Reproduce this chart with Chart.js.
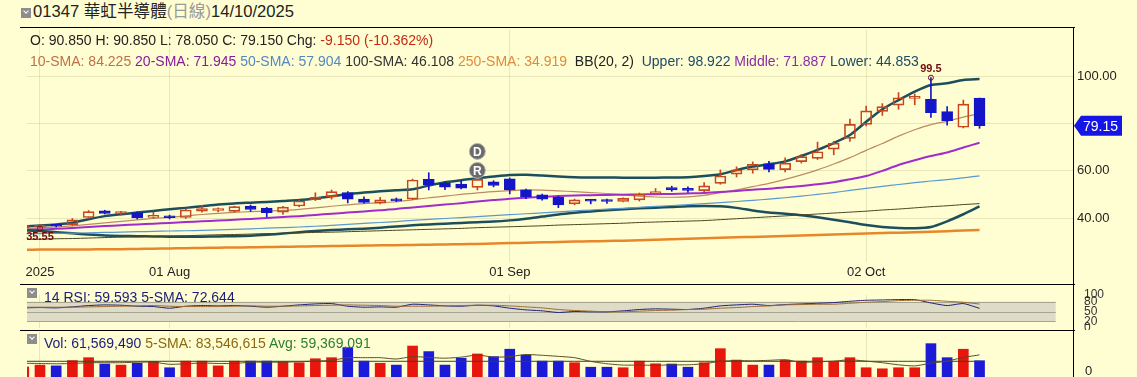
<!DOCTYPE html>
<html>
<head>
<meta charset="utf-8">
<script src="https://cdn.jsdelivr.net/npm/chart.js@4.4.1/dist/chart.umd.min.js"></script>
<style>
  body { margin: 0; background: #fffed2; width: 1137px; height: 377px; overflow: hidden; position: relative;
         font-family: "Liberation Sans", Arial, "Noto Sans CJK TC", sans-serif; }
  .abs { position: absolute; white-space: nowrap; }
  .rule { position: absolute; left: 20px; width: 1055px; height: 1px; background: #000; }
  .icon { position: absolute; width: 10px; height: 10px; background: #8d8d8d; }
  .icon:after { content: ''; position: absolute; left: 3px; top: 1px; width: 3px; height: 3px;
                border-right: 1.5px solid #fff; border-bottom: 1.5px solid #fff; transform: rotate(45deg); }
  canvas { position: absolute; left: 0; }
  .txt { position: absolute; white-space: nowrap; font-size: 14px; line-height: 16px; z-index: 2; }
</style>
</head>
<body>
<canvas id="price" width="1137" height="257" style="top:27px"></canvas>
<canvas id="rsi" width="1137" height="45" style="top:285px"></canvas>
<canvas id="vol" width="1137" height="46" style="top:331px"></canvas>

<div class="icon" style="left:21px;top:8px"></div>
<div class="abs" style="left:33px;top:2px;font-size:16.6px;line-height:20px;color:#222">01347 華虹半導體<span style="color:#9a9a9a">(日線)</span>14/10/2025</div>
<div class="rule" style="top:27px"></div>
<div class="txt" style="left:30px;top:32px;color:#222">O: 90.850 H: 90.850 L: 78.050 C: 79.150 Chg: <span style="color:#c42a12">-9.150 (-10.362%)</span></div>
<div class="txt" style="left:30px;top:53px">
  <span style="color:#c07048">10-SMA: 84.225</span>
  <span style="color:#8a1c9c">20-SMA: 71.945</span>
  <span style="color:#5488c4">50-SMA: 57.904</span>
  <span style="color:#333">100-SMA: 46.108</span>
  <span style="color:#e08a3c">250-SMA: 34.919</span>&nbsp;
  <span style="color:#222">BB(20, 2)</span>&nbsp;
  <span style="color:#1e4a66">Upper: 98.922</span>
  <span style="color:#8a2da8">Middle: 71.887</span>
  <span style="color:#1e4a66">Lower: 44.853</span>
</div>

<div class="rule" style="top:284px"></div>
<div class="icon" style="left:27px;top:288px"></div>
<div class="txt" style="left:44px;top:289px;color:#1c1c78">14 RSI: 59.593 5-SMA: 72.644</div>

<div class="rule" style="top:330px"></div>
<div class="icon" style="left:27px;top:334px"></div>
<div class="txt" style="left:44px;top:335px"><span style="color:#1c1c78">Vol: 61,569,490</span> <span style="color:#8b6914">5-SMA: 83,546,615</span> <span style="color:#2e7d32">Avg: 59,369,091</span></div>

<div style="position:absolute;left:1073px;top:27px;width:1px;height:350px;background:#000"></div>

<script>
// trading days shown (first one is mostly hidden behind the left edge)
const dates = [
  '2025-07-21','2025-07-22','2025-07-23','2025-07-24','2025-07-25','2025-07-28','2025-07-29','2025-07-30','2025-07-31',
  '2025-08-01','2025-08-04','2025-08-05','2025-08-06','2025-08-07','2025-08-08','2025-08-11','2025-08-12','2025-08-13',
  '2025-08-14','2025-08-15','2025-08-18','2025-08-19','2025-08-20','2025-08-21','2025-08-22','2025-08-25','2025-08-26',
  '2025-08-27','2025-08-28','2025-08-29',
  '2025-09-01','2025-09-02','2025-09-03','2025-09-04','2025-09-05','2025-09-08','2025-09-09','2025-09-10','2025-09-11',
  '2025-09-12','2025-09-15','2025-09-16','2025-09-17','2025-09-18','2025-09-19','2025-09-22','2025-09-23','2025-09-24',
  '2025-09-25','2025-09-26','2025-09-29','2025-09-30',
  '2025-10-02','2025-10-03','2025-10-06','2025-10-08','2025-10-09','2025-10-10','2025-10-13','2025-10-14'
];

const open = [35.9, 36.1, 36.9, 37.2, 40.2, 43.0, 41.9, 42.3, 40.3, 40.5, 40.2, 42.9, 43.2, 42.8, 45.1, 44.2, 42.5, 45.1, 47.8, 49.1,
  50.8, 48.0, 46.3, 47.5, 48.0, 56.4, 54.7, 54.4, 53.0, 55.3, 56.6, 51.9, 49.8, 48.8, 46.0, 47.4, 47.4, 47.0, 47.7, 50.3,
  52.9, 52.2, 51.6, 54.7, 58.6, 60.4, 63.0, 60.5, 63.9, 65.3, 69.2, 73.8, 79.7, 85.2, 87.9, 90.7, 90.3, 85.1, 78.5, 90.85];
const high = [36.8, 37.2, 37.3, 39.8, 43.2, 43.3, 42.8, 42.6, 42.5, 41.2, 43.9, 45.4, 44.3, 45.0, 45.5, 44.5, 45.0, 47.6, 50.7, 51.9,
  51.2, 49.0, 48.8, 48.5, 56.5, 59.2, 55.3, 55.8, 56.8, 55.8, 57.0, 52.3, 50.2, 49.3, 48.0, 47.9, 48.0, 48.6, 50.6, 52.5,
  53.5, 53.2, 55.0, 60.4, 61.7, 63.8, 64.0, 65.5, 67.0, 72.2, 72.5, 82.0, 87.5, 88.5, 93.2, 92.6, 99.5, 87.2, 90.0, 90.85];
const low = [35.7, 35.55, 36.2, 36.8, 39.8, 41.7, 41.2, 39.6, 40.0, 39.6, 39.8, 42.5, 42.6, 42.5, 42.8, 40.5, 41.5, 44.8, 47.4, 48.0,
  46.4, 46.3, 46.0, 46.9, 47.8, 51.9, 52.0, 52.3, 51.9, 53.2, 50.2, 48.2, 47.6, 44.4, 45.6, 46.0, 46.2, 46.8, 47.2, 50.0,
  51.3, 50.8, 51.2, 54.3, 57.4, 59.0, 59.5, 59.5, 63.3, 64.8, 66.8, 72.5, 79.0, 83.5, 86.1, 88.0, 82.7, 79.4, 78.2, 78.05];
const close = [36.3, 36.6, 36.5, 39.2, 42.7, 42.0, 42.1, 40.0, 40.8, 40.1, 43.4, 44.0, 43.9, 44.8, 43.6, 42.3, 44.6, 47.2, 48.8, 51.2,
  48.0, 46.6, 47.7, 47.3, 56.1, 54.0, 53.1, 52.7, 56.4, 53.8, 51.9, 49.1, 48.0, 45.6, 47.7, 47.1, 47.0, 48.3, 50.2, 51.2,
  51.9, 51.7, 53.6, 57.8, 60.4, 62.8, 60.6, 63.3, 66.0, 68.1, 71.7, 79.7, 85.4, 87.2, 91.0, 90.9, 84.7, 81.3, 88.3, 79.15];

// volume in millions of shares
const volM = [38, 45, 42, 62, 73, 49, 45, 52, 59, 35, 60, 60, 42, 60, 60, 60, 58, 54, 69, 73,
  111, 60, 52, 45, 117, 96, 45, 71, 87, 77, 105, 83, 60, 60, 54, 37, 37, 35, 60, 50,
  49, 37, 54, 107, 64, 45, 45, 64, 60, 73, 58, 73, 35, 31, 35, 35, 126, 73, 105, 61.57];
const volSma5M = [52, 51, 50, 51, 54, 54, 54, 56, 56, 48, 50, 53, 51, 51, 56, 56, 56, 58, 60, 63,
  73, 73, 73, 68, 77, 74, 71, 75, 83, 75, 77, 85, 82, 78, 73, 59, 50, 45, 45, 44,
  46, 46, 50, 59, 62, 61, 63, 65, 56, 57, 60, 65, 60, 54, 46, 42, 52, 60, 74, 83.5];
const volAvgM = 59.369;

const sma10 = [35.5, 35.8, 36.2, 36.7, 37.3, 37.9, 38.6, 39.2, 39.8, 40.3, 40.9, 41.5, 42.0, 42.4, 42.7, 42.9, 43.2, 43.7, 44.3, 45.0,
  45.6, 46.1, 46.5, 46.9, 47.7, 48.6, 49.3, 50.0, 50.7, 51.2, 51.6, 51.9, 51.8, 51.5, 51.2, 50.8, 50.4, 49.9, 49.3, 48.9,
  48.8, 49.0, 49.6, 50.7, 51.9, 53.3, 54.7, 56.4, 58.3, 60.4, 62.9, 65.6, 68.7, 71.6, 74.7, 77.4, 79.6, 81.0, 82.8, 84.2];
const sma20 = [34.9, 35.1, 35.4, 35.8, 36.2, 36.6, 36.9, 37.3, 37.6, 37.9, 38.3, 38.6, 38.9, 39.3, 39.6, 40.0, 40.4, 40.8, 41.3, 41.8,
  42.3, 42.8, 43.3, 43.8, 44.5, 45.1, 45.7, 46.3, 47.0, 47.6, 48.2, 48.6, 49.0, 49.3, 49.5, 49.7, 49.8, 49.9, 50.0, 50.1,
  50.2, 50.4, 50.6, 51.0, 51.5, 52.0, 52.4, 53.0, 53.6, 54.3, 55.2, 56.4, 57.8, 60.0, 62.5, 64.5, 66.3, 67.8, 69.9, 71.9];
const sma50 = [33.3, 33.4, 33.5, 33.6, 33.7, 33.9, 34.0, 34.2, 34.3, 34.5, 34.6, 34.8, 35.0, 35.2, 35.4, 35.7, 35.9, 36.2, 36.5, 36.9,
  37.3, 37.7, 38.1, 38.5, 39.0, 39.4, 39.8, 40.2, 40.6, 41.0, 41.4, 41.8, 42.2, 42.6, 43.0, 43.4, 43.8, 44.1, 44.5, 44.9,
  45.3, 45.7, 46.1, 46.5, 47.0, 47.5, 48.0, 48.6, 49.3, 50.0, 50.8, 51.7, 52.6, 53.4, 54.2, 55.0, 55.7, 56.3, 57.0, 57.9];
const sma100 = [30.9, 31.0, 31.2, 31.3, 31.5, 31.7, 31.9, 32.0, 32.2, 32.4, 32.5, 32.7, 32.9, 33.0, 33.2, 33.4, 33.5, 33.7, 33.9, 34.0,
  34.2, 34.4, 34.6, 34.8, 35.0, 35.2, 35.4, 35.6, 35.9, 36.1, 36.3, 36.5, 36.7, 37.0, 37.2, 37.4, 37.6, 37.8, 38.1, 38.3,
  38.5, 38.7, 38.9, 39.3, 39.7, 40.1, 40.5, 40.9, 41.3, 41.7, 42.1, 42.5, 42.9, 43.4, 43.8, 44.3, 44.8, 45.2, 45.7, 46.1];
const sma250 = [26.5, 26.6, 26.6, 26.7, 26.7, 26.8, 26.8, 26.9, 27.0, 27.1, 27.2, 27.3, 27.4, 27.5, 27.6, 27.7, 27.8, 27.9, 28.0, 28.1,
  28.2, 28.3, 28.4, 28.5, 28.6, 28.7, 28.8, 28.9, 29.0, 29.2, 29.4, 29.5, 29.7, 29.8, 30.0, 30.1, 30.3, 30.4, 30.6, 30.8,
  31.0, 31.2, 31.4, 31.6, 31.8, 32.0, 32.2, 32.4, 32.6, 32.8, 33.0, 33.2, 33.4, 33.6, 33.8, 34.0, 34.2, 34.4, 34.7, 34.9];
const bbUpper = [36.4, 36.8, 37.3, 38.0, 39.5, 40.8, 41.6, 42.3, 43.0, 43.7, 44.3, 45.0, 45.7, 46.2, 46.5, 46.8, 47.2, 47.6, 48.3, 49.2,
  50.2, 50.8, 51.3, 51.8, 52.2, 53.8, 55.2, 56.0, 56.9, 57.6, 58.2, 58.3, 58.0, 57.6, 57.3, 57.2, 57.2, 57.1, 57.1, 57.1,
  57.2, 57.3, 57.8, 58.6, 60.3, 61.8, 62.8, 64.0, 66.3, 68.9, 71.8, 75.2, 80.8, 86.1, 90.0, 93.6, 96.4, 97.1, 98.5, 98.9];
const bbLower = [34.8, 34.5, 34.0, 33.5, 33.0, 32.6, 32.4, 32.3, 32.2, 32.1, 32.1, 32.1, 32.2, 32.3, 32.5, 32.9, 33.4, 34.0, 34.5, 34.9,
  35.2, 35.5, 35.9, 36.4, 36.9, 37.3, 37.6, 37.9, 38.2, 38.5, 39.0, 39.7, 40.6, 41.5, 42.2, 42.8, 43.3, 43.7, 44.1, 44.4,
  44.7, 45.0, 45.1, 45.0, 44.3, 43.2, 42.3, 41.8, 41.2, 40.3, 39.3, 38.2, 37.0, 36.2, 35.8, 35.7, 36.2, 38.6, 41.6, 44.9];

const rsi14 = [61, 62, 61, 64, 68, 70, 69, 66, 65, 60, 66, 68, 67, 68, 66, 63, 66, 70, 73, 74,
  66, 63, 64, 63, 72, 70, 67, 66, 69, 67, 60, 55, 52, 47, 50, 49, 49, 52, 56, 58,
  57, 56, 60, 67, 70, 72, 68, 71, 73, 75, 77, 81, 84, 85, 86, 86, 76, 68, 74, 59.6];
const rsiSma5 = [63, 63, 63, 63, 64, 65, 66, 67, 68, 66, 65, 65, 65, 66, 67, 66, 66, 67, 68, 69,
  70, 69, 68, 66, 66, 66, 67, 68, 69, 69, 67, 64, 61, 56, 53, 51, 49, 49, 51, 53,
  54, 56, 57, 60, 62, 65, 67, 70, 71, 72, 72, 75, 78, 80, 83, 84, 84, 81, 78, 72.6];

const priceTicks = [40, 60, 80, 100];
const rsiTicks = [0, 20, 50, 80, 100];
const xTickPos = [1, 9, 30, 52];
const xTickText = ['2025', '01 Aug', '01 Sep', '02 Oct'];
const eventMarks = [{ pos: 28, marks: ['D', 'R'] }];

[open, high, low, close, volM, volSma5M, sma10, sma20, sma50, sma100, sma250, bbUpper, bbLower, rsi14, rsiSma5]
  .forEach((a, n) => { if (a.length !== dates.length) console.error('length mismatch', n, a.length); });

// layout
const X_MIN = 0.198, X_MAX = 64.77;
const Y_MIN = 21.35, Y_MAX = 119.72;
const FONT = '"Liberation Sans", Arial, sans-serif';
Chart.defaults.font.family = FONT;

const RED = '#c8461e', BLUE = '#1414c8';
const VRED = '#e8160c', VBLUE = '#1a1ad8';
const GRID = 'rgba(150,150,100,0.22)';

const pts = arr => arr.map((v, k) => ({ x: k, y: v }));
const isUp = k => close[k] >= open[k];

const line = (data, color, width) => ({
  type: 'line', data: pts(data), borderColor: color, borderWidth: width,
  pointRadius: 0, tension: 0.25, order: 10
});

function xScale(showTicks) {
  return {
    type: 'linear', min: X_MIN, max: X_MAX, offset: false,
    grid: { offset: false, color: GRID, drawTicks: false },
    border: { display: false },
    ticks: {
      display: showTicks, color: '#222', font: { size: 13 }, padding: 3, maxRotation: 0, autoSkip: false,
      callback: v => xTickText[xTickPos.indexOf(v)] || ''
    },
    afterBuildTicks: s => { s.ticks = xTickPos.map(v => ({ value: v })); },
    afterFit: s => { s.height = showTicks ? 22 : 0; s.paddingLeft = 0; s.paddingRight = 0; }
  };
}

function yScale(min, max, ticks, cb, opts) {
  return Object.assign({
    position: 'right', min: min, max: max,
    grid: { color: GRID, drawTicks: false },
    border: { display: false },
    ticks: { color: '#222', font: { size: 13 }, padding: 4, autoSkip: false, callback: cb },
    afterBuildTicks: s => { s.ticks = ticks.map(v => ({ value: v })); },
    afterFit: s => { s.width = 64; s.paddingTop = 0; s.paddingBottom = 0; }
  }, opts || {});
}

const common = {
  responsive: false, animation: false, events: [],
  plugins: { legend: { display: false }, tooltip: { enabled: false } }
};

// labels, price tag and event badges on the price panel
const markPlugin = {
  id: 'marks',
  afterDatasetsDraw(chart) {
    const { ctx, scales: { x, y } } = chart;
    let hi = 1, lo = 1;
    for (let k = 1; k < high.length; k++) {
      if (high[k] > high[hi]) hi = k;
      if (low[k] < low[lo]) lo = k;
    }
    ctx.save();
    ctx.strokeStyle = '#6e0b0b';
    ctx.lineWidth = 1;
    const xh = x.getPixelForValue(hi), yh = y.getPixelForValue(high[hi]);
    const xl = x.getPixelForValue(lo), yl = y.getPixelForValue(low[lo]);
    ctx.beginPath(); ctx.arc(xh, yh, 2.5, 0, Math.PI * 2); ctx.stroke();
    ctx.beginPath(); ctx.arc(xl, yl, 2.5, 0, Math.PI * 2); ctx.stroke();
    ctx.fillStyle = '#6e0b0b';
    ctx.font = 'bold 11px ' + FONT;
    ctx.textAlign = 'center';
    ctx.textBaseline = 'bottom';
    ctx.fillText(String(high[hi]), xh, yh - 3);
    ctx.textBaseline = 'top';
    ctx.fillText(String(low[lo]), xl, yl + 3);

    eventMarks.forEach(ev => {
      const ex = x.getPixelForValue(ev.pos), ey = y.getPixelForValue(high[ev.pos]);
      ev.marks.slice().reverse().forEach((t, n) => {
        const cy = ey - 8 - n * 19;
        ctx.beginPath(); ctx.arc(ex, cy, 8, 0, Math.PI * 2);
        ctx.fillStyle = '#6b6b6b'; ctx.fill();
        ctx.strokeStyle = '#b8b8b8'; ctx.stroke();
        ctx.fillStyle = '#fff';
        ctx.font = 'bold 12px ' + FONT;
        ctx.textBaseline = 'middle';
        ctx.fillText(t, ex, cy + 1);
      });
    });
    ctx.restore();
  },
  afterDraw(chart) {
    const { ctx, scales: { y }, chartArea } = chart;
    const last = close.length - 1;
    const py = y.getPixelForValue(close[last]);
    const x0 = chartArea.right + 1;
    ctx.save();
    ctx.fillStyle = '#1515e6';
    ctx.beginPath();
    ctx.moveTo(x0, py);
    ctx.lineTo(x0 + 7, py - 10);
    ctx.lineTo(x0 + 48, py - 10);
    ctx.lineTo(x0 + 48, py + 10);
    ctx.lineTo(x0 + 7, py + 10);
    ctx.closePath();
    ctx.fill();
    ctx.fillStyle = '#fff';
    ctx.font = '14px ' + FONT;
    ctx.textAlign = 'left';
    ctx.textBaseline = 'middle';
    ctx.fillText(close[last].toFixed(2), x0 + 9, py + 1);
    ctx.restore();
  }
};

new Chart(document.getElementById('price'), {
  type: 'bar',
  data: {
    datasets: [
      line(sma250, '#e8862a', 2.5),
      line(sma100, '#4b4420', 1),
      line(sma50, '#5a98d0', 1.2),
      line(bbLower, '#1d4e5c', 2.5),
      line(bbUpper, '#1d4e5c', 2.5),
      line(sma20, '#a02ccc', 2),
      line(sma10, '#bc8a62', 1.2),
      {
        data: open.map((o, k) => ({ x: k, y: [Math.max(o, close[k]), high[k]] })),
        backgroundColor: c => isUp(c.dataIndex) ? RED : BLUE,
        barThickness: 1, grouped: false, order: 5
      },
      {
        data: open.map((o, k) => ({ x: k, y: [low[k], Math.min(o, close[k])] })),
        backgroundColor: c => isUp(c.dataIndex) ? RED : BLUE,
        barThickness: 1, grouped: false, order: 5
      },
      {
        data: open.map((o, k) => ({ x: k, y: [o, close[k]] })),
        backgroundColor: c => isUp(c.dataIndex) ? 'rgba(0,0,0,0)' : BLUE,
        borderColor: c => isUp(c.dataIndex) ? RED : BLUE,
        borderWidth: 1, borderSkipped: false, minBarLength: 2,
        barThickness: 11, grouped: false, order: 1
      }
    ]
  },
  options: Object.assign({}, common, {
    layout: { padding: { left: 27, top: 3, right: 0, bottom: 0 } },
    scales: {
      x: xScale(true),
      y: yScale(Y_MIN, Y_MAX, priceTicks, v => v === 80 ? '' : v.toFixed(2))
    }
  }),
  plugins: [markPlugin]
});

// RSI panel
const bandPlugin = {
  id: 'band',
  beforeDatasetsDraw(chart) {
    const { ctx, chartArea, scales: { x, y } } = chart;
    const xr = x.getPixelForValue(63.7);
    const y80 = y.getPixelForValue(80), y50 = y.getPixelForValue(50), y20 = y.getPixelForValue(20);
    ctx.save();
    ctx.fillStyle = '#dedcc6';
    ctx.fillRect(chartArea.left, y80, xr - chartArea.left, y20 - y80);
    ctx.strokeStyle = '#a6a592';
    ctx.lineWidth = 1;
    [y80, y50, y20].forEach(py => {
      ctx.beginPath(); ctx.moveTo(chartArea.left, Math.round(py) + 0.5); ctx.lineTo(xr, Math.round(py) + 0.5); ctx.stroke();
    });
    ctx.restore();
  }
};

new Chart(document.getElementById('rsi'), {
  type: 'line',
  data: {
    datasets: [
      { data: pts(rsiSma5), borderColor: '#9c6b30', borderWidth: 1, pointRadius: 0, tension: 0.2 },
      { data: pts(rsi14), borderColor: '#1c1c78', borderWidth: 1, pointRadius: 0, tension: 0.2 }
    ]
  },
  options: Object.assign({}, common, {
    layout: { padding: { left: 27, top: 10, right: 0, bottom: 2 } },
    scales: {
      x: xScale(false),
      y: yScale(0, 100, rsiTicks, v => String(v), {
        grid: { display: false },
        ticks: { color: '#333', font: { size: 12 }, padding: 3, autoSkip: false, callback: v => String(v) }
      })
    }
  }),
  plugins: [bandPlugin]
});

// volume panel
new Chart(document.getElementById('vol'), {
  type: 'bar',
  data: {
    datasets: [
      { type: 'line', data: pts(volSma5M), borderColor: '#5a4a1e', borderWidth: 1, pointRadius: 0, tension: 0.2, order: 1 },
      { type: 'line', data: dates.map((d, k) => ({ x: k, y: volAvgM })), borderColor: '#2c4a2c', borderWidth: 1, pointRadius: 0, order: 1 },
      {
        data: pts(volM),
        backgroundColor: c => isUp(c.dataIndex) ? VRED : VBLUE,
        barThickness: 10, grouped: false, order: 5
      }
    ]
  },
  options: Object.assign({}, common, {
    layout: { padding: { left: 27, top: 1, right: 0, bottom: 0 } },
    scales: {
      x: xScale(false),
      y: yScale(0, 170, [0], v => String(v), {
        grid: { display: false },
        ticks: { color: '#222', font: { size: 13 }, padding: 4, autoSkip: false, labelOffset: -6, callback: v => String(v) }
      })
    }
  })
});
</script>
</body>
</html>
